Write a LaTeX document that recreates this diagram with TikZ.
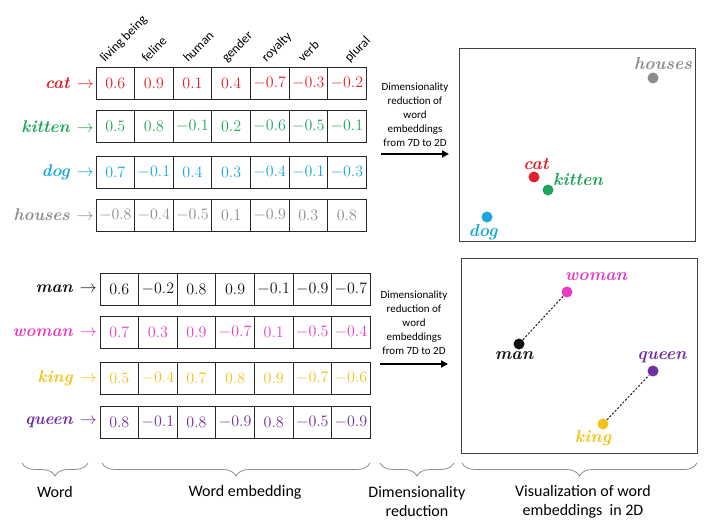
\RequirePackage{fix-cm}
\documentclass[tikz,border=0pt]{standalone}
\usepackage{fontspec}
\newfontfamily\carlito{Carlito}
\usetikzlibrary{decorations.pathreplacing,arrows.meta}
\definecolor{cred}{HTML}{E3202B}
\definecolor{cgreen}{HTML}{1FA55A}
\definecolor{cblue}{HTML}{1AA7E0}
\definecolor{cgray}{HTML}{8C8C8C}
\definecolor{cblack}{HTML}{111111}
\definecolor{cmag}{HTML}{E83BC6}
\definecolor{cyel}{HTML}{F2C318}
\definecolor{cpur}{HTML}{7030A0}
\tikzset{
  cell/.style={draw=black!85, line width=0.9pt, minimum width=38.6pt, minimum height=32pt, inner sep=0pt, font=\fontsize{16}{19}\selectfont},
  wlabel/.style={anchor=east, inner sep=0pt, font=\fontsize{17}{20}\selectfont\bfseries\itshape},
  head/.style={rotate=45, anchor=base west, inner sep=0pt, font=\carlito\fontsize{13}{15}\selectfont},
  dot/.style={circle, inner sep=0pt, minimum size=11pt},
  plabel/.style={inner sep=0pt, font=\fontsize{17.5}{20}\selectfont\bfseries\itshape},
  panel/.style={draw=black!75, line width=1pt, inner sep=0pt},
  dimtext/.style={align=center, font=\carlito\fontsize{11}{14}\selectfont, inner sep=0pt},
  bigarrow/.style={-{Triangle[length=7pt,width=7pt]}, line width=1.8pt},
  brc/.style={decorate, decoration={brace, mirror, amplitude=13pt}, draw=black!45, line width=0.8pt},
  btext/.style={align=center, font=\carlito\fontsize{16}{19}\selectfont, inner sep=0pt},
  vecdash/.style={dashed, dash pattern=on 2.2pt off 1.6pt, line width=1pt, draw=black!85},
}
\begin{document}
\begin{tikzpicture}[x=1pt,y=-1pt]
\useasboundingbox (0,0) rectangle (714,526);
\fill[white] (0,0) rectangle (714,526);

% headers
\foreach \t/\dx [count=\i] in {living being/9, feline/12, human/15, gender/15, royalty/16, verb/14, plural/22}
  \node[head] (h\i) at ({96+(\i-1)*38.6+\dx}, 63) {\t};

% top grid
\foreach \name/\clr/\yc/\vals in {
  cat/cred/83/{0.6,0.9,0.1,0.4,-0.7,-0.3,-0.2},
  kitten/cgreen/126.5/{0.5,0.8,-0.1,0.2,-0.6,-0.5,-0.1},
  dog/cblue/172.5/{0.7,-0.1,0.4,0.3,-0.4,-0.1,-0.3},
  houses/cgray/215/{-0.8,-0.4,-0.5,0.1,-0.9,0.3,0.8}}{
  \node[wlabel, text=\clr] (w-\name) at (94,\yc) {\name\ $\rightarrow$};
  \foreach \v [count=\i] in \vals
    \node[cell, text=\clr] (c-\name-\i) at ({96+(\i-0.5)*38.6}, \yc) {$\v$};
}

% bottom grid
\foreach \name/\clr/\yc/\vals in {
  man/cblack/289/{0.6,-0.2,0.8,0.9,-0.1,-0.9,-0.7},
  woman/cmag/332.5/{0.7,0.3,0.9,-0.7,0.1,-0.5,-0.4},
  king/cyel/378/{0.5,-0.4,0.7,0.8,0.9,-0.7,-0.6},
  queen/cpur/422.5/{0.8,-0.1,0.8,-0.9,0.8,-0.5,-0.9}}{
  \node[wlabel, text=\clr] (w-\name) at (97,\yc) {\name\ $\rightarrow$};
  \foreach \v [count=\i] in \vals
    \node[cell, text=\clr] (c-\name-\i) at ({100+(\i-0.5)*38.6}, \yc) {$\v$};
}

% dimensionality reduction arrows
\node[dimtext] (t1) at (415,115) {Dimensionality\\reduction of\\word\\embeddings\\from 7D to 2D};
\coordinate (a1s) at (381,154);
\coordinate (a1e) at (449,154);
\draw[bigarrow] (a1s) -- (a1e);
\node[dimtext] (t2) at (414,323) {Dimensionality\\reduction of\\word\\embeddings\\from 7D to 2D};
\coordinate (a2s) at (380,364);
\coordinate (a2e) at (448,364);
\draw[bigarrow] (a2s) -- (a2e);

% panels
\node[panel, minimum width=236pt, minimum height=193pt] (p1) at (577,145.5) {};
\node[panel, minimum width=236pt, minimum height=194pt] (p2) at (579,356) {};

% top panel points
\node[dot, fill=cgray] (d-houses) at (653,78) {};
\node[plabel, text=cgray] (l-houses) at (663,63.5) {houses};
\node[dot, fill=cred] (d-cat) at (534,177) {};
\node[plabel, text=cred] (l-cat) at (536,164) {cat};
\node[dot, fill=cgreen] (d-kitten) at (548,190) {};
\node[plabel, text=cgreen] (l-kitten) at (578,179) {kitten};
\node[dot, fill=cblue] (d-dog) at (487,217) {};
\node[plabel, text=cblue] (l-dog) at (483,232) {dog};

% bottom panel points
\node[dot, fill=cmag] (d-woman) at (567,292) {};
\node[plabel, text=cmag] (l-woman) at (596,277) {woman};
\node[dot, fill=cblack] (d-man) at (519,344) {};
\node[plabel, text=cblack] (l-man) at (514,356) {man};
\node[dot, fill=cpur] (d-queen) at (653,371) {};
\node[plabel, text=cpur] (l-queen) at (662,357) {queen};
\node[dot, fill=cyel] (d-king) at (603,424) {};
\node[plabel, text=cyel] (l-king) at (593,438) {king};
\draw[vecdash] (d-man) -- (d-woman);
\draw[vecdash] (d-king) -- (d-queen);

% braces
\coordinate (b1s) at (22,463);   \coordinate (b1e) at (88,463);
\coordinate (b2s) at (102,463);  \coordinate (b2e) at (370,463);
\coordinate (b3s) at (380,463);  \coordinate (b3e) at (454,463);
\coordinate (b4s) at (462,463);  \coordinate (b4e) at (697,463);
\draw[brc] (b1s) -- (b1e);
\draw[brc] (b2s) -- (b2e);
\draw[brc] (b3s) -- (b3e);
\draw[brc] (b4s) -- (b4e);
\node[btext] (bt1) at (55,492) {Word};
\node[btext] (bt2) at (245,492) {Word embedding};
\node[btext] (bt3) at (417,501.5) {Dimensionality\\reduction};
\node[btext] (bt4) at (583,501.5) {Visualization of word\\embeddings~ in 2D};
\end{tikzpicture}
\end{document}
